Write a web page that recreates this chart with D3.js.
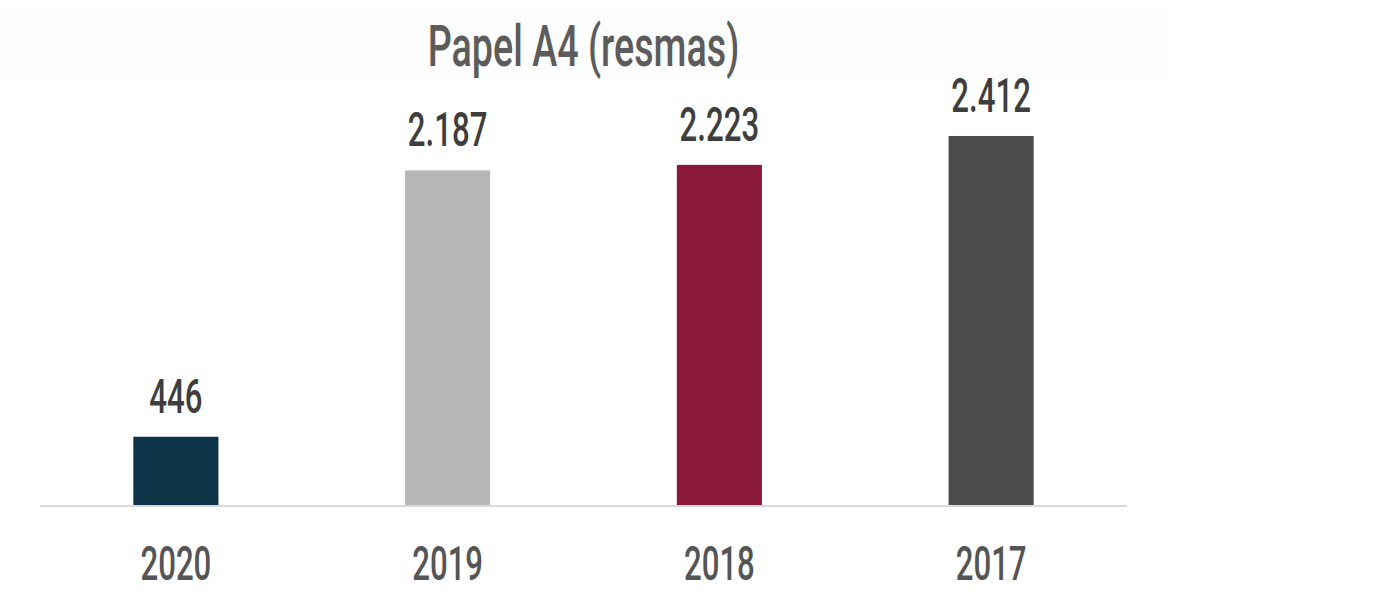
<!DOCTYPE html>
<html>
<head>
<meta charset="utf-8">
<script src="https://cdn.jsdelivr.net/npm/d3@7"></script>
<style>
  body { margin: 0; background: #fff; }
  text { font-family: Roboto, "DejaVu Sans", sans-serif; }
</style>
</head>
<body>
<div id="chart"></div>
<script>
// data
const years = ["2020", "2019", "2018", "2017"];
const values = [446, 2187, 2223, 2412];
const valueLabels = ["446", "2.187", "2.223", "2.412"];
const barColors = ["#0c3347", "#b7b7b7", "#8a183b", "#4b4b4b"];
const title = "Papel A4 (resmas)";

const width = 1384, height = 606;
const squeeze = 0.65; // condensed look

const svg = d3.select("#chart").append("svg")
    .attr("width", width)
    .attr("height", height);

// faint title band
svg.append("rect")
    .attr("x", 0).attr("y", 6)
    .attr("width", 1167).attr("height", 72)
    .attr("fill", "#fdfdfd");

const x = d3.scaleBand()
    .domain(years)
    .range([40, 1127])
    .paddingInner(0.687)
    .paddingOuter(0.3435);

const y = d3.scaleLinear()
    .domain([0, 2500])
    .range([505, 122.5]);

function condensedText(g, tx, ty, str, size, color, weight) {
  g.append("text")
      .attr("transform", "translate(" + tx + "," + ty + ") scale(" + squeeze + ",1)")
      .attr("text-anchor", "middle")
      .attr("font-size", size)
      .attr("font-weight", weight)
      .attr("fill", color)
      .text(str);
}

// title
condensedText(svg, (40 + 1127) / 2, 66, title, 58, "#5c5c5c", 500);

// bars
svg.selectAll("rect.bar")
    .data(values)
    .enter()
    .append("rect")
    .attr("class", "bar")
    .attr("x", (d, i) => x(years[i]))
    .attr("y", d => y(d))
    .attr("width", x.bandwidth())
    .attr("height", d => y(0) - y(d))
    .attr("fill", (d, i) => barColors[i]);

// baseline
svg.append("line")
    .attr("x1", 40).attr("x2", 1127)
    .attr("y1", y(0) + 1).attr("y2", y(0) + 1)
    .attr("stroke", "#d9d9d9")
    .attr("stroke-width", 2);

// value labels
values.forEach((v, i) => {
  condensedText(svg, x(years[i]) + x.bandwidth() / 2, y(v) - 24, valueLabels[i], 48, "#3e3e3e", 500);
});

// year labels
years.forEach(yr => {
  condensedText(svg, x(yr) + x.bandwidth() / 2, 580, yr, 48, "#555555", 500);
});
</script>
</body>
</html>
